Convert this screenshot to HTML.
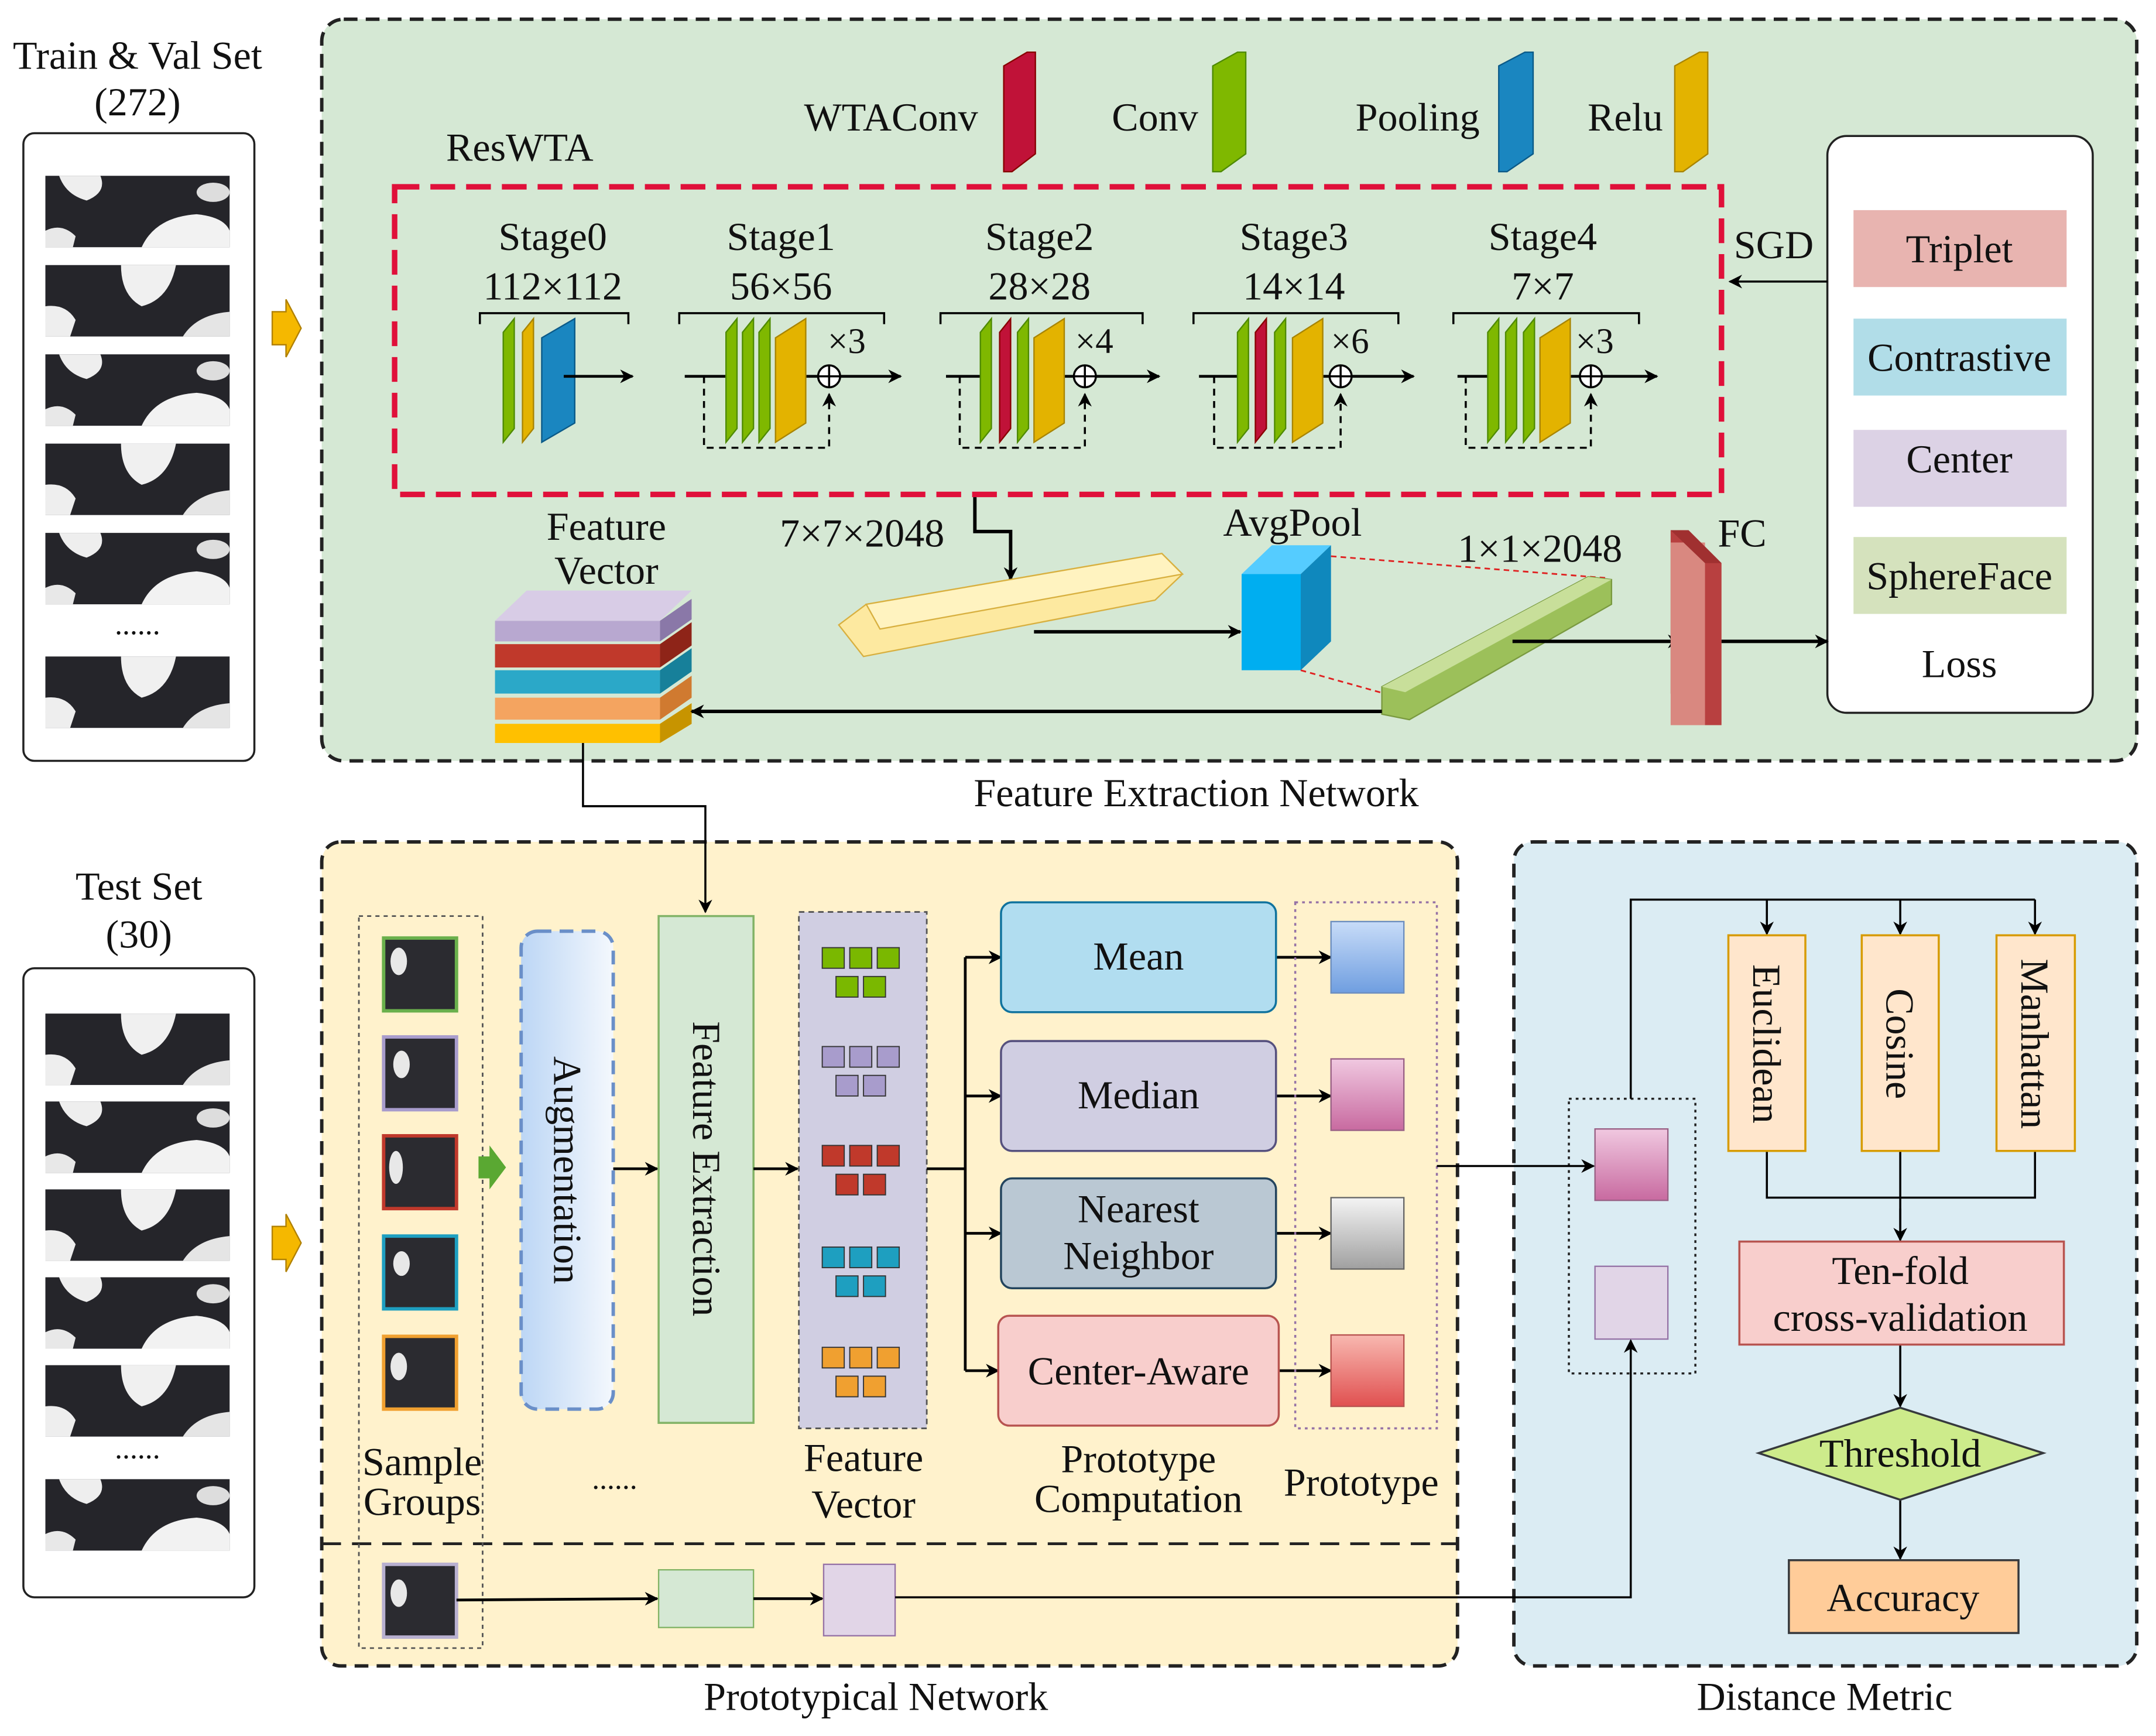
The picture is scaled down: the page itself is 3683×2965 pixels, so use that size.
<!DOCTYPE html>
<html><head><meta charset="utf-8"><style>
html,body{margin:0;padding:0;background:#fff}
svg{display:block}
text{font-family:"Liberation Serif",serif;fill:#111}
</style></head><body>
<svg width="3683" height="2965" viewBox="0 0 1568 1264" preserveAspectRatio="none" xmlns="http://www.w3.org/2000/svg">
<defs>
<marker id="a" markerWidth="10" markerHeight="10" refX="9" refY="5" orient="auto" markerUnits="userSpaceOnUse"><path d="M0,0 L10,5 L0,10 L3,5 z" fill="#000"/></marker>
<g id="cow"><rect width="134" height="52" fill="#25252a"/><path d="M10,0 L40,0 Q45,12 30,18 Q15,14 10,0z" fill="#eee"/><path d="M70,52 Q80,30 110,28 Q130,30 134,40 L134,52z" fill="#f2f2f2"/><ellipse cx="122" cy="12" rx="12" ry="7" fill="#ddd"/><path d="M0,40 Q12,34 22,44 L20,52 L0,52z" fill="#e8e8e8"/></g>
<g id="cow2"><rect width="134" height="52" fill="#25252a"/><path d="M55,0 L95,0 Q90,25 70,30 Q55,22 55,0z" fill="#f0f0f0"/><path d="M0,30 Q15,28 22,40 L18,52 L0,52z" fill="#eee"/><path d="M100,52 Q110,36 134,34 L134,52z" fill="#e5e5e5"/></g>
<polygon id="Lg" points="0,10 8,0 8,80 0,90" fill="#7fb800" stroke="#4e8a00" stroke-width="1"/>
<polygon id="Ly" points="0,10 8,0 8,80 0,90" fill="#e3b300" stroke="#a88400" stroke-width="1"/>
<polygon id="Lr" points="0,10 8,0 8,80 0,90" fill="#c01238" stroke="#800" stroke-width="1"/>
<linearGradient id="aug" x1="0" x2="1"><stop offset="0" stop-color="#bcd6f5"/><stop offset="1" stop-color="#f4f8fd"/></linearGradient>
<linearGradient id="pb" x1="0" y1="0" x2="0" y2="1"><stop offset="0" stop-color="#c8dcf8"/><stop offset="1" stop-color="#6f9ee0"/></linearGradient>
<linearGradient id="pp" x1="0" y1="0" x2="0" y2="1"><stop offset="0" stop-color="#f0c8e0"/><stop offset="1" stop-color="#c86aa0"/></linearGradient>
<linearGradient id="pg" x1="0" y1="0" x2="0" y2="1"><stop offset="0" stop-color="#f4f4f4"/><stop offset="1" stop-color="#a0a0a0"/></linearGradient>
<linearGradient id="pr" x1="0" y1="0" x2="0" y2="1"><stop offset="0" stop-color="#f8b8b0"/><stop offset="1" stop-color="#e05050"/></linearGradient>
</defs>

<!-- Panels -->
<rect x="234" y="14" width="1320" height="540" rx="16" fill="#d5e8d4" stroke="#222" stroke-width="2.5" stroke-dasharray="10,6"/>
<rect x="234" y="613" width="826" height="600" rx="14" fill="#fff2cc" stroke="#222" stroke-width="2.5" stroke-dasharray="10,6"/>
<rect x="1101" y="613" width="453" height="600" rx="14" fill="#dbecf3" stroke="#222" stroke-width="2.5" stroke-dasharray="10,6"/>
<text x="870" y="587" font-size="29" text-anchor="middle">Feature Extraction Network</text>
<text x="637" y="1245" font-size="29" text-anchor="middle">Prototypical Network</text>
<text x="1327" y="1245" font-size="29" text-anchor="middle">Distance Metric</text>

<!-- Train set -->
<text x="100" y="50" font-size="29" text-anchor="middle">Train &amp; Val Set</text>
<text x="100" y="84" font-size="29" text-anchor="middle">(272)</text>
<rect x="17" y="97" width="168" height="457" rx="8" fill="#fff" stroke="#222" stroke-width="1.5"/>
<use href="#cow" x="33" y="128"/><use href="#cow2" x="33" y="193"/><use href="#cow" x="33" y="258"/><use href="#cow2" x="33" y="323"/><use href="#cow" x="33" y="388"/>
<text x="100" y="462" font-size="22" text-anchor="middle">......</text>
<use href="#cow2" x="33" y="478"/>
<polygon points="198,227 208,227 208,218 219,239 208,260 208,251 198,251" fill="#f5b800" stroke="#b08000"/>

<!-- Legend -->
<text x="648" y="95" font-size="29" text-anchor="middle">WTAConv</text>
<polygon points="730,48 747,38 753,38 753,112 736,125 730,125" fill="#c01238" stroke="#800"/>
<text x="840" y="95" font-size="29" text-anchor="middle">Conv</text>
<polygon points="882,48 900,38 906,38 906,112 888,125 882,125" fill="#7fb800" stroke="#4e8a00"/>
<text x="1031" y="95" font-size="29" text-anchor="middle">Pooling</text>
<polygon points="1090,48 1109,38 1115,38 1115,112 1096,125 1090,125" fill="#1a86c0" stroke="#0b5a88"/>
<text x="1182" y="95" font-size="29" text-anchor="middle">Relu</text>
<polygon points="1218,48 1236,38 1242,38 1242,112 1224,125 1218,125" fill="#e3b300" stroke="#a88400"/>
<text x="378" y="117" font-size="29" text-anchor="middle">ResWTA</text>

<rect x="287" y="136" width="965" height="224" fill="none" stroke="#e0103a" stroke-width="4" stroke-dasharray="18,8"/>

<g font-size="29" text-anchor="middle">
<text x="402" y="182">Stage0</text><text x="402" y="218">112×112</text>
<text x="568" y="182">Stage1</text><text x="568" y="218">56×56</text>
<text x="756" y="182">Stage2</text><text x="756" y="218">28×28</text>
<text x="941" y="182">Stage3</text><text x="941" y="218">14×14</text>
<text x="1122" y="182">Stage4</text><text x="1122" y="218">7×7</text>
</g>
<g stroke="#000" stroke-width="1.5" fill="none">
<path d="M349,236 V228 H457 V236"/><path d="M494,236 V228 H643 V236"/><path d="M684,236 V228 H831 V236"/><path d="M868,236 V228 H1017 V236"/><path d="M1057,236 V228 H1192 V236"/>
</g>
<use href="#Lg" x="366" y="232"/><use href="#Ly" x="380" y="232"/>
<polygon points="394,246 418,232 418,308 394,322" fill="#1a86c0" stroke="#0b5a88"/>
<line x1="410" y1="274" x2="460" y2="274" stroke="#000" stroke-width="2" marker-end="url(#a)"/>
<g stroke="#000" stroke-width="2" fill="none">
<line x1="498" y1="274" x2="528" y2="274"/><line x1="580" y1="274" x2="655" y2="274" marker-end="url(#a)"/>
<path d="M512,274 V326 H603 V287" stroke-dasharray="5,4" stroke-width="1.5" marker-end="url(#a)"/>
<line x1="688" y1="274" x2="713" y2="274"/><line x1="764" y1="274" x2="843" y2="274" marker-end="url(#a)"/>
<path d="M698,274 V326 H789 V287" stroke-dasharray="5,4" stroke-width="1.5" marker-end="url(#a)"/>
<line x1="872" y1="274" x2="900" y2="274"/><line x1="952" y1="274" x2="1028" y2="274" marker-end="url(#a)"/>
<path d="M883,274 V326 H975 V287" stroke-dasharray="5,4" stroke-width="1.5" marker-end="url(#a)"/>
<line x1="1060" y1="274" x2="1082" y2="274"/><line x1="1132" y1="274" x2="1205" y2="274" marker-end="url(#a)"/>
<path d="M1066,274 V326 H1157 V287" stroke-dasharray="5,4" stroke-width="1.5" marker-end="url(#a)"/>
</g>
<use href="#Lg" x="528" y="232"/><use href="#Lg" x="540" y="232"/><use href="#Lg" x="552" y="232"/>
<polygon points="564,246 586,232 586,308 564,322" fill="#e3b300" stroke="#a88400"/>
<use href="#Lg" x="713" y="232"/><use href="#Lr" x="727" y="232"/><use href="#Lg" x="740" y="232"/>
<polygon points="752,246 774,232 774,308 752,322" fill="#e3b300" stroke="#a88400"/>
<use href="#Lg" x="900" y="232"/><use href="#Lr" x="913" y="232"/><use href="#Lg" x="927" y="232"/>
<polygon points="940,246 962,232 962,308 940,322" fill="#e3b300" stroke="#a88400"/>
<use href="#Lg" x="1082" y="232"/><use href="#Lg" x="1095" y="232"/><use href="#Lg" x="1108" y="232"/>
<polygon points="1120,246 1142,232 1142,308 1120,322" fill="#e3b300" stroke="#a88400"/>
<g fill="#fff" stroke="#000" stroke-width="1.5">
<circle cx="603" cy="274" r="8"/><circle cx="789" cy="274" r="8"/><circle cx="975" cy="274" r="8"/><circle cx="1157" cy="274" r="8"/>
</g>
<g stroke="#000" stroke-width="1.5"><path d="M595,274h16M603,266v16M781,274h16M789,266v16M967,274h16M975,266v16M1149,274h16M1157,266v16"/></g>
<g font-size="26"><text x="602" y="257">×3</text><text x="782" y="257">×4</text><text x="968" y="257">×6</text><text x="1146" y="257">×3</text></g>

<!-- Loss -->
<rect x="1329" y="99" width="193" height="420" rx="14" fill="#fff" stroke="#222" stroke-width="1.5"/>
<rect x="1348" y="153" width="155" height="56" fill="#e8b4b0"/>
<rect x="1348" y="232" width="155" height="56" fill="#b1dde8"/>
<rect x="1348" y="313" width="155" height="56" fill="#dcd2e5"/>
<rect x="1348" y="391" width="155" height="56" fill="#d5e2bd"/>
<g font-size="29" text-anchor="middle">
<text x="1425" y="191">Triplet</text><text x="1425" y="270">Contrastive</text><text x="1425" y="344">Center</text><text x="1425" y="429">SphereFace</text><text x="1425" y="493">Loss</text>
<text x="1290" y="188">SGD</text>
</g>
<line x1="1329" y1="205" x2="1258" y2="205" stroke="#000" stroke-width="1.5" marker-end="url(#a)"/>

<!-- Feature vector stack -->
<text x="441" y="393" font-size="29" text-anchor="middle">Feature</text>
<text x="441" y="425" font-size="29" text-anchor="middle">Vector</text>
<polygon points="360,527 480,527 503,512 503,527 480,541 360,541" fill="#ffc000"/>
<polygon points="480,527 503,512 503,527 480,541" fill="#c79400"/>
<rect x="360" y="508" width="120" height="16" fill="#f4a460"/><polygon points="480,508 503,492 503,508 480,524" fill="#d07a30"/>
<rect x="360" y="488" width="120" height="17" fill="#2ba8c8"/><polygon points="480,488 503,472 503,489 480,505" fill="#17809a"/>
<rect x="360" y="469" width="120" height="17" fill="#c0392b"/><polygon points="480,469 503,453 503,470 480,486" fill="#8e2418"/>
<rect x="360" y="452" width="120" height="15" fill="#b8a8d0"/><polygon points="480,452 503,436 503,451 480,467" fill="#8a78a8"/>
<polygon points="360,452 383,430 503,430 480,452" fill="#d8cce6"/>
<text x="627" y="398" font-size="29" text-anchor="middle">7×7×2048</text>
<path d="M709,362 V387 H735 V422" stroke="#000" stroke-width="2.5" fill="none" marker-end="url(#a)"/>
<polygon points="610,455 630,440 845,403 860,418 840,437 628,478" fill="#fde9a0" stroke="#d8b040"/>
<polygon points="630,440 845,403 860,418 640,458" fill="#fff3c0" stroke="#d8b040"/>
<line x1="752" y1="460" x2="902" y2="460" stroke="#000" stroke-width="2.5" marker-end="url(#a)"/>
<text x="940" y="390" font-size="29" text-anchor="middle">AvgPool</text>
<polygon points="903,418 925,397 968,397 946,418" fill="#55ccff"/>
<polygon points="946,418 968,397 968,467 946,488" fill="#0f88bd"/>
<rect x="903" y="418" width="43" height="70" fill="#00aef0"/>
<line x1="968" y1="405" x2="1170" y2="421" stroke="#e02020" stroke-width="1.2" stroke-dasharray="4,3"/>
<line x1="946" y1="488" x2="1007" y2="505" stroke="#e02020" stroke-width="1.2" stroke-dasharray="4,3"/>
<text x="1120" y="409" font-size="29" text-anchor="middle">1×1×2048</text>
<polygon points="1005,500 1155,420 1172,422 1172,440 1025,524 1005,520" fill="#9cc05a" stroke="#7a9a40"/>
<polygon points="1005,500 1155,420 1172,422 1022,504" fill="#c8df9a"/>
<line x1="1100" y1="467" x2="1222" y2="467" stroke="#000" stroke-width="2.5" marker-end="url(#a)"/>
<polygon points="1215,386 1228,386 1252,410 1252,528 1240,528 1215,505" fill="#b84040"/>
<rect x="1215" y="395" width="25" height="133" fill="#d98880"/>
<polygon points="1215,386 1228,386 1252,410 1240,410" fill="#a03030"/>
<text x="1267" y="398" font-size="29" text-anchor="middle">FC</text>
<line x1="1252" y1="467" x2="1329" y2="467" stroke="#000" stroke-width="2.5" marker-end="url(#a)"/>
<line x1="1005" y1="518" x2="503" y2="518" stroke="#000" stroke-width="2.5" marker-end="url(#a)"/>

<!-- Test set -->
<text x="101" y="655" font-size="29" text-anchor="middle">Test Set</text>
<text x="101" y="690" font-size="29" text-anchor="middle">(30)</text>
<rect x="17" y="705" width="168" height="458" rx="8" fill="#fff" stroke="#222" stroke-width="1.5"/>
<use href="#cow2" x="33" y="738"/><use href="#cow" x="33" y="802"/><use href="#cow2" x="33" y="866"/><use href="#cow" x="33" y="930"/><use href="#cow2" x="33" y="994"/>
<text x="100" y="1062" font-size="22" text-anchor="middle">......</text>
<use href="#cow" x="33" y="1077"/>
<polygon points="198,893 208,893 208,884 219,905 208,926 208,917 198,917" fill="#f5b800" stroke="#b08000"/>

<!-- Prototypical -->
<line x1="234" y1="1124" x2="1060" y2="1124" stroke="#222" stroke-width="2" stroke-dasharray="14,8"/>
<rect x="261" y="667" width="90" height="533" fill="none" stroke="#555" stroke-width="1.2" stroke-dasharray="3,3"/>
<g stroke-width="2.5">
<rect x="279" y="683" width="53" height="53" fill="#2b2b30" stroke="#6ab04c"/>
<rect x="279" y="755" width="53" height="53" fill="#2b2b30" stroke="#a89ccc"/>
<rect x="279" y="827" width="53" height="53" fill="#2b2b30" stroke="#c0392b"/>
<rect x="279" y="900" width="53" height="53" fill="#2b2b30" stroke="#1e9fc0"/>
<rect x="279" y="973" width="53" height="53" fill="#2b2b30" stroke="#f0a030"/>
<rect x="279" y="1139" width="53" height="53" fill="#2b2b30" stroke="#b8b0d0"/>
</g>
<g fill="#e8e8e8"><ellipse cx="290" cy="700" rx="6" ry="10"/><ellipse cx="292" cy="775" rx="6" ry="10"/><ellipse cx="288" cy="850" rx="5" ry="12"/><ellipse cx="292" cy="920" rx="6" ry="9"/><ellipse cx="290" cy="995" rx="6" ry="10"/><ellipse cx="290" cy="1160" rx="6" ry="10"/></g>
<text x="307" y="1074" font-size="29" text-anchor="middle">Sample</text>
<text x="307" y="1103" font-size="29" text-anchor="middle">Groups</text>
<polygon points="348,842 356,842 356,834 368,850 356,866 356,858 348,858" fill="#5aa832"/>
<rect x="379" y="678" width="67" height="348" rx="12" fill="url(#aug)" stroke="#6a8fc8" stroke-width="2.5" stroke-dasharray="10,6"/>
<text transform="translate(403,852) rotate(90)" font-size="29" text-anchor="middle">Augmentation</text>
<line x1="446" y1="851" x2="478" y2="851" stroke="#000" stroke-width="2" marker-end="url(#a)"/>
<rect x="479" y="667" width="69" height="369" fill="#d5e8d4" stroke="#82b366" stroke-width="1.5"/>
<text transform="translate(504,851) rotate(90)" font-size="29" text-anchor="middle">Feature Extraction</text>
<line x1="548" y1="851" x2="580" y2="851" stroke="#000" stroke-width="2" marker-end="url(#a)"/>
<rect x="581" y="664" width="93" height="376" fill="#d0cee2" stroke="#555" stroke-width="1.2" stroke-dasharray="4,3"/>
<g stroke="#333" stroke-width="0.8">
<g fill="#7ab800"><rect x="598" y="690" width="16" height="15"/><rect x="618" y="690" width="16" height="15"/><rect x="638" y="690" width="16" height="15"/><rect x="608" y="711" width="16" height="15"/><rect x="628" y="711" width="16" height="15"/></g>
<g fill="#a89ccc"><rect x="598" y="762" width="16" height="15"/><rect x="618" y="762" width="16" height="15"/><rect x="638" y="762" width="16" height="15"/><rect x="608" y="783" width="16" height="15"/><rect x="628" y="783" width="16" height="15"/></g>
<g fill="#c0392b"><rect x="598" y="834" width="16" height="15"/><rect x="618" y="834" width="16" height="15"/><rect x="638" y="834" width="16" height="15"/><rect x="608" y="855" width="16" height="15"/><rect x="628" y="855" width="16" height="15"/></g>
<g fill="#1e9fc0"><rect x="598" y="908" width="16" height="15"/><rect x="618" y="908" width="16" height="15"/><rect x="638" y="908" width="16" height="15"/><rect x="608" y="929" width="16" height="15"/><rect x="628" y="929" width="16" height="15"/></g>
<g fill="#f0a030"><rect x="598" y="981" width="16" height="15"/><rect x="618" y="981" width="16" height="15"/><rect x="638" y="981" width="16" height="15"/><rect x="608" y="1002" width="16" height="15"/><rect x="628" y="1002" width="16" height="15"/></g>
</g>
<text x="447" y="1084" font-size="22" text-anchor="middle">......</text>
<text x="628" y="1071" font-size="29" text-anchor="middle">Feature</text>
<text x="628" y="1105" font-size="29" text-anchor="middle">Vector</text>
<g stroke="#000" stroke-width="2" fill="none">
<line x1="674" y1="851" x2="702" y2="851"/><line x1="702" y1="697" x2="702" y2="998"/>
<line x1="702" y1="697" x2="728" y2="697" marker-end="url(#a)"/><line x1="702" y1="798" x2="728" y2="798" marker-end="url(#a)"/>
<line x1="702" y1="898" x2="728" y2="898" marker-end="url(#a)"/><line x1="702" y1="998" x2="726" y2="998" marker-end="url(#a)"/>
<line x1="928" y1="697" x2="968" y2="697" marker-end="url(#a)"/><line x1="928" y1="798" x2="968" y2="798" marker-end="url(#a)"/>
<line x1="928" y1="898" x2="968" y2="898" marker-end="url(#a)"/><line x1="930" y1="998" x2="968" y2="998" marker-end="url(#a)"/>
</g>
<rect x="728" y="657" width="200" height="80" rx="8" fill="#b1ddf0" stroke="#10739e" stroke-width="1.5"/>
<rect x="728" y="758" width="200" height="80" rx="8" fill="#d0cee2" stroke="#56517e" stroke-width="1.5"/>
<rect x="728" y="858" width="200" height="80" rx="8" fill="#bac8d3" stroke="#23445d" stroke-width="1.5"/>
<rect x="726" y="958" width="204" height="80" rx="8" fill="#f8cecc" stroke="#b85450" stroke-width="1.5"/>
<g font-size="29" text-anchor="middle">
<text x="828" y="706">Mean</text><text x="828" y="807">Median</text><text x="828" y="890">Nearest</text><text x="828" y="924">Neighbor</text><text x="828" y="1008">Center-Aware</text>
<text x="828" y="1072">Prototype</text><text x="828" y="1101">Computation</text><text x="990" y="1089">Prototype</text>
</g>
<rect x="942" y="657" width="103" height="383" fill="none" stroke="#9673a6" stroke-width="1.5" stroke-dasharray="2,3"/>
<rect x="968" y="671" width="53" height="52" fill="url(#pb)" stroke="#6c8ebf"/>
<rect x="968" y="771" width="53" height="52" fill="url(#pp)" stroke="#996185"/>
<rect x="968" y="872" width="53" height="52" fill="url(#pg)" stroke="#666"/>
<rect x="968" y="972" width="53" height="52" fill="url(#pr)" stroke="#b85450"/>
<line x1="332" y1="1165" x2="478" y2="1164" stroke="#000" stroke-width="2" marker-end="url(#a)"/>
<rect x="479" y="1143" width="69" height="42" fill="#d5e8d4" stroke="#82b366"/>
<line x1="548" y1="1164" x2="598" y2="1164" stroke="#000" stroke-width="2" marker-end="url(#a)"/>
<rect x="599" y="1139" width="52" height="52" fill="#e1d5e7" stroke="#9673a6"/>

<!-- Distance -->
<rect x="1141" y="800" width="92" height="200" fill="none" stroke="#222" stroke-width="1.5" stroke-dasharray="2,3"/>
<rect x="1160" y="822" width="53" height="52" fill="url(#pp)" stroke="#996185"/>
<rect x="1160" y="922" width="53" height="53" fill="#e1d5e7" stroke="#9673a6"/>
<g stroke="#000" stroke-width="1.5" fill="none">
<path d="M1186,800 V655 H1480"/>
<line x1="1285" y1="655" x2="1285" y2="680" marker-end="url(#a)"/><line x1="1382" y1="655" x2="1382" y2="680" marker-end="url(#a)"/><line x1="1480" y1="655" x2="1480" y2="680" marker-end="url(#a)"/>
<path d="M1285,838 V872 H1480 V838 M1382,838 V903"/>
<line x1="1382" y1="880" x2="1382" y2="903" marker-end="url(#a)"/>
<line x1="1382" y1="979" x2="1382" y2="1024" marker-end="url(#a)"/>
<line x1="1382" y1="1092" x2="1382" y2="1135" marker-end="url(#a)"/>
</g>
<rect x="1257" y="681" width="56" height="157" fill="#ffe6cc" stroke="#d79b00" stroke-width="1.5"/>
<rect x="1354" y="681" width="56" height="157" fill="#ffe6cc" stroke="#d79b00" stroke-width="1.5"/>
<rect x="1452" y="681" width="57" height="157" fill="#ffe6cc" stroke="#d79b00" stroke-width="1.5"/>
<g font-size="29" text-anchor="middle">
<text transform="translate(1275,760) rotate(90)">Euclidean</text>
<text transform="translate(1372,760) rotate(90)">Cosine</text>
<text transform="translate(1470,760) rotate(90)">Manhattan</text>
</g>
<rect x="1265" y="904" width="236" height="75" fill="#f8cecc" stroke="#b85450" stroke-width="1.5"/>
<text x="1382" y="935" font-size="29" text-anchor="middle">Ten-fold</text>
<text x="1382" y="969" font-size="29" text-anchor="middle">cross-validation</text>
<polygon points="1279,1058 1382,1025 1486,1058 1382,1092" fill="#cdeb8b" stroke="#36393d" stroke-width="1.5"/>
<text x="1382" y="1068" font-size="29" text-anchor="middle">Threshold</text>
<rect x="1301" y="1136" width="167" height="53" fill="#ffcc99" stroke="#36393d" stroke-width="1.5"/>
<text x="1384" y="1173" font-size="29" text-anchor="middle">Accuracy</text>

<!-- Cross-panel connectors on top -->
<path d="M424,541 V587 H513 V664" stroke="#000" stroke-width="1.5" fill="none" marker-end="url(#a)"/>
<path d="M651,1163 H1186 V976" stroke="#000" stroke-width="1.5" fill="none" marker-end="url(#a)"/>
<line x1="1045" y1="849" x2="1159" y2="849" stroke="#000" stroke-width="1.5" marker-end="url(#a)"/>
</svg>
</body></html>
